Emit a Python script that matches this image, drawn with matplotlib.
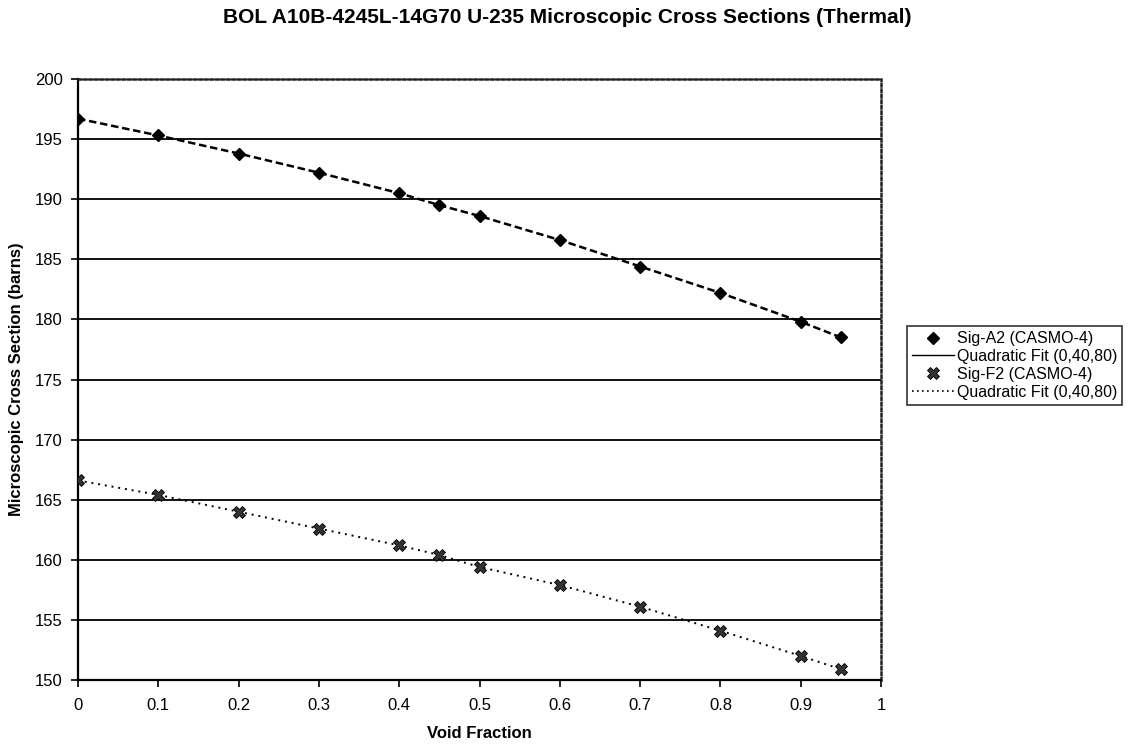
import matplotlib
matplotlib.use("Agg")
import matplotlib.pyplot as plt
from matplotlib.lines import Line2D

plt.rcParams['font.family'] = ['Liberation Sans', 'DejaVu Sans']

void = [0, 0.1, 0.2, 0.3, 0.4, 0.45, 0.5, 0.6, 0.7, 0.8, 0.9, 0.95]
sig_a2 = [196.7, 195.3, 193.8, 192.2, 190.5, 189.5, 188.6, 186.6, 184.4, 182.2, 179.8, 178.5]
sig_f2 = [166.6, 165.4, 164.0, 162.6, 161.2, 160.4, 159.4, 157.9, 156.1, 154.1, 152.0, 150.9]
xticks = [0, 0.1, 0.2, 0.3, 0.4, 0.5, 0.6, 0.7, 0.8, 0.9, 1]
yticks = [150, 155, 160, 165, 170, 175, 180, 185, 190, 195, 200]
labels = ['Sig-A2 (CASMO-4)', 'Quadratic Fit (0,40,80)', 'Sig-F2 (CASMO-4)', 'Quadratic Fit (0,40,80)']

fig = plt.figure(figsize=(11.34, 7.45), dpi=100)
ax = fig.add_axes([0.0688, 0.0872, 0.7082, 0.8068])

ax.plot(void, sig_a2, linestyle='none', marker='D', markersize=6.5, color='black', zorder=4)
ax.plot(void, sig_a2, linestyle=(0, (3, 1.5)), linewidth=1.8, color='black', zorder=3)
ax.plot(void, sig_f2, linestyle='none', marker='X', markersize=8, color='#333333',
        markeredgecolor='black', markeredgewidth=0.6, zorder=4)
ax.plot(void, sig_f2, linestyle=(0, (1, 2.5)), linewidth=1.4, color='black', zorder=3)

ax.set_xlim(0, 1)
ax.set_ylim(150, 200)
ax.set_xticks(xticks)
ax.set_xticklabels([f"{t:g}" for t in xticks])
ax.set_yticks(yticks)
ax.yaxis.grid(True, color='black', linewidth=1.3)
ax.set_axisbelow(True)
ax.tick_params(axis='both', labelsize=12, direction='out', length=5, width=1.2, color='black')
ax.tick_params(axis='x', pad=8)
ax.tick_params(axis='y', pad=6)

for s in ['left', 'bottom']:
    ax.spines[s].set_linewidth(1.6)
    ax.spines[s].set_color('black')
for s in ['top', 'right']:
    ax.spines[s].set_linestyle((0, (1, 1.2)))
    ax.spines[s].set_linewidth(1.8)
    ax.spines[s].set_color('#222222')

ax.set_xlabel('Void Fraction', fontsize=12, fontweight='bold', labelpad=9)
ax.set_ylabel('Microscopic Cross Section (barns)', fontsize=12, fontweight='bold', labelpad=8)
fig.text(0.5, 0.977, 'BOL A10B-4245L-14G70 U-235 Microscopic Cross Sections (Thermal)',
         fontsize=15, fontweight='bold', ha='center', va='center')

handles = [
    Line2D([], [], linestyle='none', marker='D', markersize=6.5, color='black'),
    Line2D([], [], linestyle='-', linewidth=1.0, color='black'),
    Line2D([], [], linestyle='none', marker='X', markersize=8, color='#333333',
           markeredgecolor='black', markeredgewidth=0.6),
    Line2D([], [], linestyle=(0, (1, 2)), linewidth=1.2, color='black'),
]
leg = fig.legend(handles, labels, loc='upper left', bbox_to_anchor=(0.800, 0.562), fontsize=11.5,
                 frameon=True, fancybox=False, edgecolor='black', handlelength=2.6,
                 handletextpad=0.2, borderpad=0.3, labelspacing=0.18, borderaxespad=0.0)
leg.get_frame().set_linewidth(1.2)

fig.savefig('out.png', dpi=100, facecolor='white')
